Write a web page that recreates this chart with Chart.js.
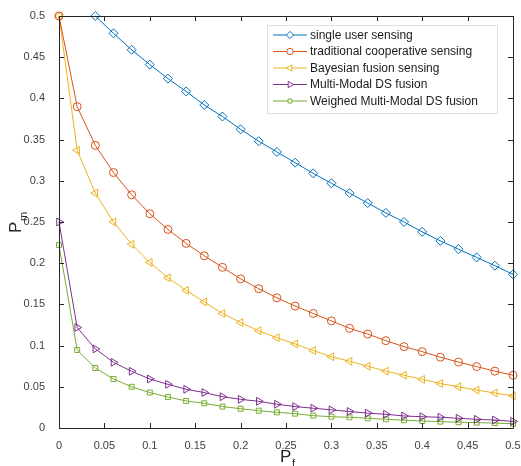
<!DOCTYPE html>
<html>
<head>
<meta charset="utf-8">
<script src="https://cdn.jsdelivr.net/npm/chart.js@4"></script>
<style>
  html, body { margin: 0; padding: 0; background: #fff; }
  #wrap { width: 521px; height: 466px; }
</style>
</head>
<body>
<div id="wrap"><canvas id="chart" width="521" height="466"></canvas></div>
<script>
// P_f values on the x axis
const pf = [0, 0.02, 0.04, 0.06, 0.08, 0.1, 0.12, 0.14, 0.16, 0.18, 0.2, 0.22, 0.24,
  0.26, 0.28, 0.3, 0.32, 0.34, 0.36, 0.38, 0.4, 0.42, 0.44, 0.46, 0.48, 0.5];

// P_m for each method
const singleUser = [null, null, 0.5, 0.479, 0.459, 0.441, 0.424, 0.4085, 0.392, 0.378, 0.3625,
  0.348, 0.335, 0.322, 0.309, 0.297, 0.285, 0.273, 0.261, 0.25, 0.238, 0.227, 0.217, 0.207, 0.197, 0.1865];
const traditional = [0.5, 0.39, 0.343, 0.31, 0.283, 0.26, 0.241, 0.224, 0.209, 0.195, 0.181,
  0.169, 0.158, 0.148, 0.139, 0.13, 0.121, 0.114, 0.106, 0.0987, 0.0927, 0.0859, 0.08, 0.0745, 0.069, 0.064];
const bayesian = [0.5, 0.337, 0.285, 0.25, 0.223, 0.201, 0.1823, 0.167, 0.153, 0.139, 0.128,
  0.118, 0.1095, 0.102, 0.094, 0.0865, 0.081, 0.075, 0.069, 0.064, 0.059, 0.054, 0.05, 0.046, 0.0425, 0.039];
const multiModal = [0.25, 0.122, 0.096, 0.0797, 0.0688, 0.0595, 0.053, 0.047, 0.043, 0.038, 0.0348,
  0.0324, 0.0288, 0.026, 0.024, 0.022, 0.02, 0.018, 0.0166, 0.0146, 0.0137, 0.013, 0.0118, 0.0105, 0.0097, 0.008];
const weighed = [0.222, 0.0947, 0.0728, 0.0595, 0.05, 0.043, 0.0376, 0.0328, 0.03, 0.026, 0.0234,
  0.021, 0.019, 0.0174, 0.015, 0.0137, 0.013, 0.0118, 0.0106, 0.0094, 0.0085, 0.0077, 0.007, 0.0065, 0.006, 0.0052];

const seriesNames = ["single user sensing", "traditional cooperative sensing", "Bayesian fusion sensing",
  "Multi-Modal DS fusion", "Weighed Multi-Modal DS fusion"];

const FONT = "'Liberation Sans', Arial, Helvetica, sans-serif";
const AXIS_COLOR = "#262626";

function toPoints(values) {
  return pf.map((x, i) => ({ x: x, y: values[i] })).filter((p) => p.y !== null);
}

function makeSet(label, values, color, style, rotation, radius) {
  return {
    label: label,
    data: toPoints(values),
    borderColor: color,
    backgroundColor: "rgba(0,0,0,0)",
    borderWidth: 1,
    pointStyle: style,
    pointRotation: rotation,
    pointRadius: radius,
    pointBorderWidth: 1,
    pointBackgroundColor: "rgba(0,0,0,0)",
    pointBorderColor: color,
    tension: 0,
    clip: false,
  };
}

// box, inward ticks on all four sides, axis titles and the legend
const matlabAxes = {
  id: "matlabAxes",
  afterDraw(chart) {
    const ctx = chart.ctx;
    const a = chart.chartArea;
    const xs = chart.scales.x;
    const ys = chart.scales.y;
    ctx.save();
    ctx.strokeStyle = AXIS_COLOR;
    ctx.lineWidth = 1;
    ctx.beginPath();
    ctx.rect(Math.round(a.left) + 0.5, Math.round(a.top) + 0.5,
      Math.round(a.right - a.left), Math.round(a.bottom - a.top));
    const tl = 5;
    xs.ticks.forEach((t) => {
      const px = Math.round(xs.getPixelForValue(t.value)) + 0.5;
      ctx.moveTo(px, a.bottom); ctx.lineTo(px, a.bottom - tl);
      ctx.moveTo(px, a.top); ctx.lineTo(px, a.top + tl);
    });
    ys.ticks.forEach((t) => {
      const py = Math.round(ys.getPixelForValue(t.value)) + 0.5;
      ctx.moveTo(a.left, py); ctx.lineTo(a.left + tl, py);
      ctx.moveTo(a.right, py); ctx.lineTo(a.right - tl, py);
    });
    ctx.stroke();

    // axis titles with subscripts
    ctx.fillStyle = AXIS_COLOR;
    ctx.textBaseline = "alphabetic";
    ctx.textAlign = "left";
    ctx.font = "17px " + FONT;
    ctx.fillText("P", 280, 462);
    ctx.font = "11px " + FONT;
    ctx.fillText("f", 292, 467);

    ctx.save();
    ctx.translate(21, 233);
    ctx.rotate(-Math.PI / 2);
    ctx.font = "17px " + FONT;
    ctx.fillText("P", 0, 0);
    ctx.font = "11px " + FONT;
    ctx.fillText("m", 12, 6);
    ctx.restore();

    // legend
    const lx = 267, ly = 25, lw = 230, lh = 88;
    ctx.fillStyle = "#fff";
    ctx.fillRect(lx, ly, lw, lh);
    ctx.strokeStyle = "#e0e0e0";
    ctx.strokeRect(lx + 0.5, ly + 0.5, lw, lh);
    chart.data.datasets.forEach((ds, i) => {
      const y = 35 + i * 16.5;
      ctx.strokeStyle = ds.borderColor;
      ctx.lineWidth = 1;
      ctx.beginPath();
      ctx.moveTo(273, y); ctx.lineTo(307, y);
      ctx.stroke();
      ctx.fillStyle = "#fff";
      Chart.helpers.drawPoint(ctx, {
        pointStyle: ds.pointStyle, rotation: ds.pointRotation,
        radius: ds.pointRadius * 0.8, borderWidth: 1,
      }, 290, y);
      ctx.fillStyle = "#1a1a1a";
      ctx.font = "12px " + FONT;
      ctx.textBaseline = "middle";
      ctx.fillText(ds.label, 310, y + 0.5);
    });
    ctx.restore();
  },
};

const canvas = document.getElementById("chart");
new Chart(canvas, {
  type: "line",
  data: {
    datasets: [
      makeSet(seriesNames[0], singleUser, "#0072BD", "rectRot", 0, 4.5),
      makeSet(seriesNames[1], traditional, "#D95319", "circle", 0, 4),
      makeSet(seriesNames[2], bayesian, "#EDB120", "triangle", -90, 4.5),
      makeSet(seriesNames[3], multiModal, "#7E2F8E", "triangle", 90, 4.5),
      makeSet(seriesNames[4], weighed, "#77AC30", "rect", 0, 3.5),
    ],
  },
  options: {
    responsive: false,
    animation: false,
    layout: { padding: { top: 16, right: 8, left: 0, bottom: 0 } },
    plugins: {
      legend: { display: false },
      tooltip: { enabled: false },
    },
    scales: {
      x: {
        type: "linear",
        min: 0,
        max: 0.5,
        grid: { display: false },
        border: { display: false },
        ticks: {
          stepSize: 0.05,
          maxRotation: 0,
          autoSkip: false,
          padding: 3,
          color: "#404040",
          font: { family: FONT, size: 11 },
          callback: (v) => String(+v.toFixed(2)),
        },
        afterFit: (s) => { s.height = 38; s.paddingLeft = 0; s.paddingRight = 0; },
      },
      y: {
        min: 0,
        max: 0.5,
        grid: { display: false },
        border: { display: false },
        ticks: {
          stepSize: 0.05,
          autoSkip: false,
          padding: 6,
          color: "#404040",
          font: { family: FONT, size: 11 },
          callback: (v) => String(+v.toFixed(2)),
        },
        afterFit: (s) => { s.width = 59; s.paddingTop = 0; s.paddingBottom = 0; },
      },
    },
  },
  plugins: [matlabAxes],
});
</script>
</body>
</html>
